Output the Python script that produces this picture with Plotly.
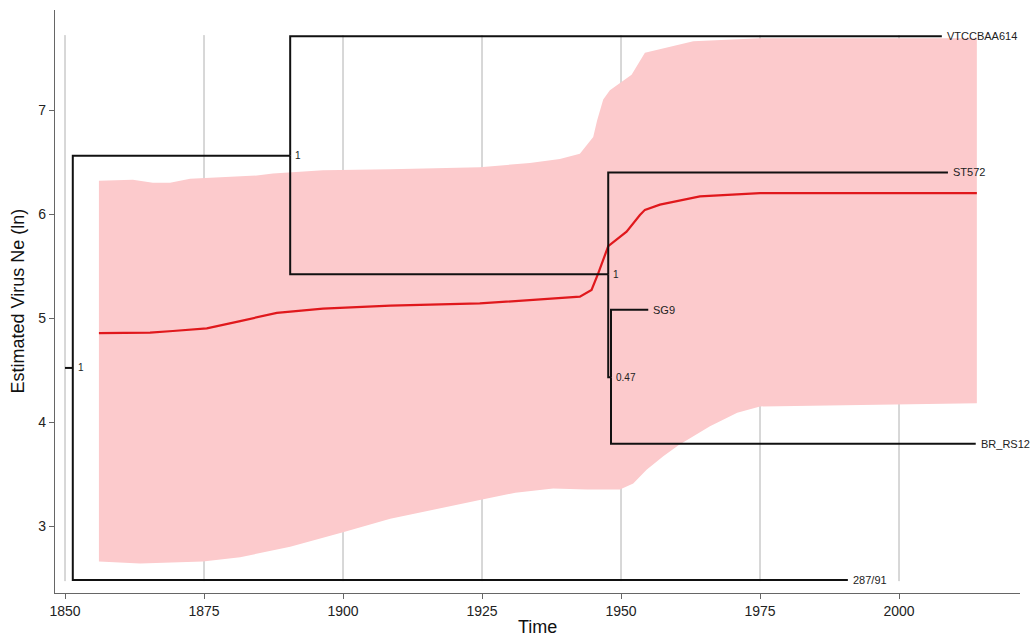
import plotly.graph_objects as go

# ---- Ne skyline (ribbon + median) ----
upper_years = [1856.1, 1862.2, 1865.8, 1868.9, 1872.5, 1884.5, 1887.4, 1896.4, 1908.5, 1924.6,
               1933.6, 1939.0, 1942.6, 1945.0, 1945.7, 1946.8, 1948.0, 1949.8, 1951.9, 1954.3,
               1963.0, 1975.0, 2014.0]
upper_vals = [6.32, 6.33, 6.30, 6.30, 6.34, 6.37, 6.39, 6.42, 6.43, 6.45,
              6.49, 6.53, 6.58, 6.74, 6.90, 7.10, 7.19, 7.26, 7.34, 7.55,
              7.66, 7.69, 7.69]

lower_years = [1856.1, 1863.5, 1874.8, 1881.5, 1890.5, 1900.0, 1908.5, 1915.0, 1924.6, 1931.0,
               1937.8, 1943.8, 1949.8, 1952.2, 1954.6, 1957.6, 1960.4, 1966.0, 1970.9, 1975.0,
               1981.0, 2014.0]
lower_vals = [2.66, 2.64, 2.66, 2.70, 2.80, 2.94, 3.07, 3.14, 3.25, 3.32,
              3.36, 3.35, 3.35, 3.41, 3.54, 3.67, 3.78, 3.96, 4.09, 4.15,
              4.16, 4.18]

median_years = [1856.1, 1865.3, 1869.4, 1875.5, 1881.5, 1888.1, 1896.4, 1900.0, 1908.5, 1924.6,
                1942.6, 1944.7, 1945.9, 1947.7, 1951.0, 1953.4, 1954.3, 1957.0, 1964.2, 1975.0,
                2014.0]
median_vals = [4.855, 4.86, 4.875, 4.90, 4.97, 5.05, 5.09, 5.10, 5.12, 5.14,
               5.205, 5.27, 5.43, 5.69, 5.83, 5.99, 6.04, 6.09, 6.17, 6.20,
               6.20]

# ---- Phylogenetic tree ----
node_names = ["root", "n1", "n2", "n3", "VTCCBAA614", "ST572", "SG9", "BR_RS12", "287/91"]
node_time = [1851.4, 1890.5, 1947.7, 1948.2, 2007.7, 2008.8, 1954.9, 2013.8, 1990.8]
node_y = [4.52, 6.56, 5.42, 4.43, 7.71, 6.40, 5.08, 3.79, 2.48]
node_parent = [None, 0, 1, 2, 1, 2, 3, 3, 0]
node_support = ["1", "1", "1", "0.47", None, None, None, None, None]
root_edge_start = 1850.0

x_ticks = [1850, 1875, 1900, 1925, 1950, 1975, 2000]
y_ticks = [3, 4, 5, 6, 7]
grid_y_span = [2.47, 7.72]

fig = go.Figure()

# grid lines (limited vertical span)
for t in x_ticks:
    fig.add_shape(type="line", xref="x", yref="y", x0=t, x1=t,
                  y0=grid_y_span[0], y1=grid_y_span[1],
                  line=dict(color="rgba(150,150,150,0.75)", width=1), layer="below")

# ribbon
fig.add_trace(go.Scatter(
    x=upper_years + lower_years[::-1],
    y=upper_vals + lower_vals[::-1],
    fill="toself", fillcolor="rgba(252,202,204,1)",
    line=dict(width=0), mode="lines", hoverinfo="skip", showlegend=False))

# median
fig.add_trace(go.Scatter(x=median_years, y=median_vals, mode="lines",
                         line=dict(color="#E0181C", width=2.2), showlegend=False))

# tree segments
tx, ty = [root_edge_start, node_time[0], None], [node_y[0], node_y[0], None]
for i, p in enumerate(node_parent):
    if p is None:
        continue
    tx += [node_time[p], node_time[p], node_time[i], None]
    ty += [node_y[p], node_y[i], node_y[i], None]
fig.add_trace(go.Scatter(x=tx, y=ty, mode="lines",
                         line=dict(color="#111111", width=2), showlegend=False,
                         hoverinfo="skip"))

# tip labels
for i, name in enumerate(node_names):
    if node_parent[i] is not None and i >= 4:
        fig.add_annotation(x=node_time[i], y=node_y[i], text=name, showarrow=False,
                           xanchor="left", yanchor="middle", xshift=3,
                           font=dict(family="Arial", size=11, color="#222222"))
# support labels
for i, s in enumerate(node_support):
    if s is not None:
        fig.add_annotation(x=node_time[i], y=node_y[i], text=s, showarrow=False,
                           xanchor="left", yanchor="middle", xshift=3,
                           font=dict(family="Arial", size=10, color="#222222"))

# axis titles
fig.add_annotation(xref="paper", yref="paper", x=0.5, y=0, text="Time", showarrow=False,
                   xanchor="center", yanchor="middle", yshift=-34,
                   font=dict(family="Arial", size=18, color="#111111"))
fig.add_annotation(xref="paper", yref="paper", x=0, y=0.5, text="Estimated Virus Ne (ln)",
                   showarrow=False, textangle=-90, xanchor="center", yanchor="middle",
                   xshift=-38, font=dict(family="Arial", size=18, color="#111111"))

fig.update_layout(
    width=1035, height=638,
    margin=dict(l=55, r=15, t=10, b=45),
    plot_bgcolor="white", paper_bgcolor="white",
    font=dict(family="Arial", color="#222222"),
)
fig.update_xaxes(range=[1848.2, 2021.76], tickvals=x_ticks, showgrid=False,
                 showline=True, linecolor="#666666", linewidth=1.2,
                 ticks="outside", ticklen=5, tickcolor="#666666",
                 tickfont=dict(size=14, color="#222222"),
                 automargin=False, zeroline=False)
fig.update_yaxes(range=[2.356, 7.9615], tickvals=y_ticks, showgrid=False,
                 showline=True, linecolor="#666666", linewidth=1.2,
                 ticks="outside", ticklen=5, tickcolor="#666666",
                 tickfont=dict(size=14, color="#222222"),
                 automargin=False, zeroline=False)

# remove the browser's default 8px page margin so the figure fills the window exactly
fig.write_html("out.html", config={"displayModeBar": False},
               post_script="document.body.style.margin='0';document.body.style.overflow='hidden';")
